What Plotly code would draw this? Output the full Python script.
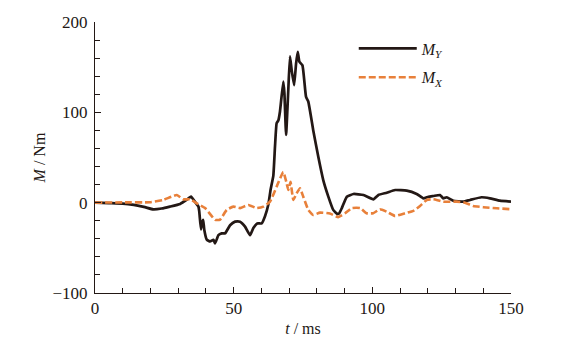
import plotly.graph_objects as go

# ---- data ----
t_my = [0, 5, 10, 14, 18, 21, 24, 27, 30.7, 33, 34.6, 36, 37.3, 37.6, 38.2, 38.6, 39, 39.4,
        40.3, 41.5, 42.7, 43.3, 44.5, 45.7, 46.9, 48.7, 50.5, 52.3, 54.1, 55.9, 57.1, 58.5,
        60.1, 61.3, 62.5, 63.3, 64.3, 64.9, 65.5, 66.1, 66.7, 67.9, 68.3, 68.9, 69.7, 70.3,
        70.9, 71.8, 72.5, 73.1, 73.7, 74.8, 76.1, 76.9, 78.7, 80.5, 82.3, 84.1, 85.9, 87.4,
        88, 89, 90.8, 93.2, 96.8, 100.4, 102.2, 105.2, 108.2, 112.4, 116, 118.4, 120.2, 122,
        124.4, 125.6, 126.8, 129.2, 132.8, 135.2, 139.4, 142.4, 146, 150]
m_y = [0, -0.5, -1, -2.5, -5, -7.4, -6.5, -4.4, -1.4, 3, 6.6, 1.1, -4.4, -10, -29.5, -22, -19, -30,
       -41, -43, -41, -45, -36, -34, -34, -25, -21, -21, -26.5, -36, -28, -23,
       -23, -15, -2, 14, 30, 62, 88, 91, 101, 134, 121, 75, 125, 162,
       147, 130, 154, 167, 156, 152, 117, 112, 80, 51, 25, 7, -8, -12.5,
       -12, -6, 6.6, 9.6, 8.5, 3.7, 8.5, 11, 14, 13.3, 9.6, 4.8, 6.6, 7.4,
       8.5, 4.8, 6, 2.2, 1.1, 3, 6, 4.8, 2.2, 1.1]

t_mx = [0, 10, 19.8, 24.6, 29.5, 31.8, 34.3, 36.7, 39.7, 43.3, 45, 47.5, 49.9, 52.3, 55.3, 58.3,
        60.7, 63.1, 65.5, 67.9, 69.1, 69.7, 70.5, 71.5, 72.7, 73.9, 75.1, 76.9, 78.7, 81.1,
        84.7, 87.7, 90.2, 92.6, 95.6, 97.9, 100.3, 102.7, 105.2, 108.2, 111.8, 114.8, 117.2,
        119.6, 122, 125.6, 130.4, 133.4, 136.4, 140, 144.9, 150]
m_x = [0, 0.3, 0.5, 3, 8.5, 3.7, 3.7, -0.7, -6, -19, -19, -8, -4.4, -6, -2.5, -6,
       -4.4, 1.1, 17.7, 34, 21.5, 14, 23, 3, 10.4, 16, 6.6, -8, -13.6, -11,
       -12, -16, -11.7, -6, -6, -11.7, -11.7, -7.3, -10, -14.7, -11.7, -9, -3.7,
       3, 3.7, 1.1, 1.1, 0, -3.7, -5, -6.2, -7.3]

x_ticks = [0, 50, 100, 150]
y_ticks = [-100, 0, 100, 200]

INK = "#231815"
ORANGE = "#E8803A"
FONT = "Liberation Serif"

fig = go.Figure()
fig.add_trace(go.Scatter(x=t_my, y=m_y, mode="lines", name="<i>M</i><sub><i>Y</i></sub>",
                         legendgroup="a",
                         line=dict(color=INK, width=2.7, shape="spline", smoothing=0.4)))
fig.add_trace(go.Scatter(x=t_mx, y=m_x, mode="lines", name="<i>M</i><sub><i>X</i></sub>",
                         legendgroup="b",
                         line=dict(color=ORANGE, width=2.6, dash="7px,3px", shape="spline", smoothing=0.4)))

axis_common = dict(showline=True, linecolor=INK, linewidth=1, showgrid=False, zeroline=False,
                   ticks="inside", ticklen=6, tickwidth=1, tickcolor=INK,
                   tickfont=dict(family=FONT, size=17, color=INK))

fig.update_xaxes(range=[0, 150], tickvals=x_ticks, ticktext=[str(v) for v in x_ticks],
                 minor=dict(dtick=10, ticks="inside", ticklen=5, tickcolor=INK, tickwidth=1),
                 title=dict(text="<i>t</i> / ms", font=dict(family=FONT, size=16, color=INK), standoff=5),
                 **axis_common)
fig.update_yaxes(range=[-100, 200], tickvals=y_ticks, ticklabelstandoff=3,
                 minor=dict(dtick=20, ticks="inside", ticklen=5, tickcolor=INK, tickwidth=1),
                 title=dict(text="<i>M</i> / Nm", font=dict(family=FONT, size=16, color=INK), standoff=2),
                 **axis_common)

# page body has an 8px default margin, so the figure is sized to fit the 565x359 window
fig.update_layout(
    width=557, height=351,
    margin=dict(l=87, r=54, t=14, b=66, autoexpand=False),
    plot_bgcolor="white", paper_bgcolor="white",
    font=dict(family=FONT, size=16, color=INK),
    legend=dict(x=0.622, y=0.965, xanchor="left", yanchor="top", bgcolor="rgba(0,0,0,0)",
                itemwidth=58, traceorder="grouped", tracegroupgap=5,
                font=dict(family=FONT, size=16, color=INK)),
    showlegend=True,
)

fig.write_html("out.html")
